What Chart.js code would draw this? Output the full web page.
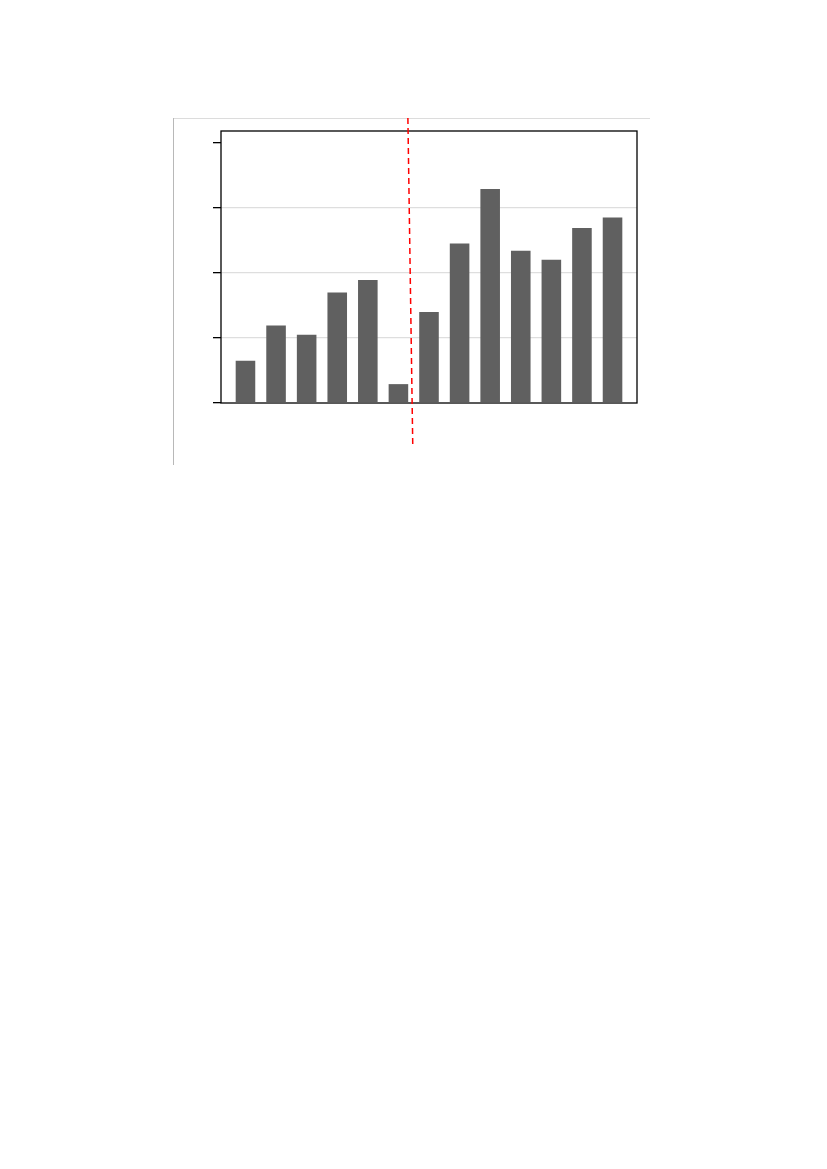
<!DOCTYPE html>
<html>
<head>
<meta charset="utf-8">
<script src="https://cdn.jsdelivr.net/npm/chart.js@4/dist/chart.umd.min.js"></script>
<style>
  html, body { margin: 0; padding: 0; background: #fff; }
  #wrap { position: absolute; left: 0; top: 0; width: 827px; height: 480px; }
</style>
</head>
<body>
<div id="wrap"><canvas id="c"></canvas></div>
<script>
// bar values (y units = one gridline step)
const categories = ['1', '2', '3', '4', '5', '6', '7', '8', '9', '10', '11', '12', '13'];
const values = [0.65, 1.19, 1.05, 1.70, 1.89, 0.29, 1.40, 2.45, 3.29, 2.34, 2.20, 2.69, 2.85];
const yTicks = [0, 1, 2, 3, 4];
// where the red dashed break line sits on the x axis (top, bottom)
const breakAt = [5.31, 5.47];

const points = categories.map((c, i) => ({ x: i, y: values[i] }));

// outer frame, plot box and the red dashed divider
const decor = {
  id: 'decor',
  beforeDraw(chart) {
    const ctx = chart.ctx;
    ctx.save();
    ctx.lineWidth = 1;
    ctx.strokeStyle = '#dcdcdc';
    ctx.beginPath(); ctx.moveTo(173, 118.5); ctx.lineTo(650, 118.5); ctx.stroke();
    ctx.strokeStyle = '#b8b8b8';
    ctx.beginPath(); ctx.moveTo(173.5, 118); ctx.lineTo(173.5, 465); ctx.stroke();
    ctx.restore();
  },
  beforeDatasetsDraw(chart) {
    const a = chart.chartArea, ctx = chart.ctx;
    ctx.save();
    ctx.strokeStyle = '#000';
    ctx.lineWidth = 1.3;
    ctx.strokeRect(a.left, a.top, a.right - a.left, a.bottom - a.top);
    ctx.restore();
  },
  afterDraw(chart) {
    const x = chart.scales.x, ctx = chart.ctx;
    ctx.save();
    ctx.strokeStyle = '#ff0000';
    ctx.lineWidth = 1.5;
    ctx.setLineDash([6, 4]);
    ctx.beginPath();
    ctx.moveTo(x.getPixelForValue(breakAt[0]), 118);
    ctx.lineTo(x.getPixelForValue(breakAt[1]), 447);
    ctx.stroke();
    ctx.restore();
  }
};

new Chart(document.getElementById('c'), {
  type: 'bar',
  data: {
    datasets: [{
      data: points,
      backgroundColor: '#606060',
      borderWidth: 0,
      barPercentage: 0.64,
      categoryPercentage: 1
    }]
  },
  options: {
    responsive: true,
    maintainAspectRatio: false,
    animation: false,
    layout: { padding: { left: 213, top: 131, right: 190, bottom: 77 } },
    plugins: { legend: { display: false }, tooltip: { enabled: false } },
    scales: {
      x: {
        type: 'linear',
        min: -0.8,
        max: 12.8,
        offset: false,
        display: false
      },
      y: {
        min: 0,
        max: 4.18,
        afterBuildTicks(scale) { scale.ticks = yTicks.map(v => ({ value: v })); },
        ticks: { display: false },
        border: { display: false },
        grid: {
          drawTicks: true,
          tickLength: 8,
          tickColor: '#000',
          lineWidth: 1.3,
          color: c => (c.tick && c.tick.value > 0 && c.tick.value < 4) ? '#dedede' : 'rgba(0,0,0,0)'
        }
      }
    }
  },
  plugins: [decor]
});
</script>
</body>
</html>
